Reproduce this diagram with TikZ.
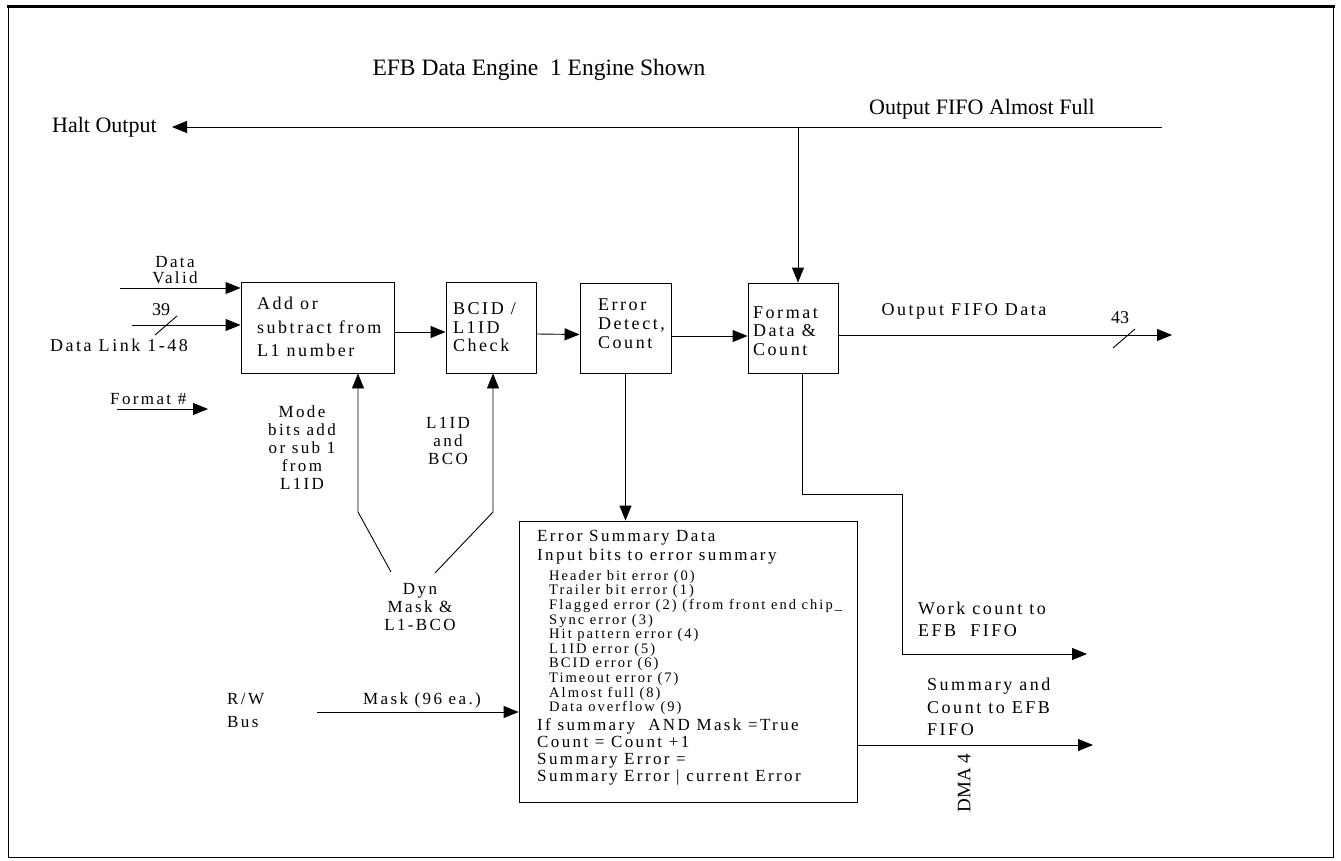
\documentclass[tikz,border=0pt]{standalone}
\usepackage{fontspec}
\setmainfont{Liberation Serif}
\newfontfamily\lsf[LetterSpace=14]{Liberation Serif}
\usetikzlibrary{arrows.meta}
\begin{document}
\begin{tikzpicture}[x=1pt,y=-1pt,
  box/.style={draw, line width=0.9pt, inner sep=0pt},
  arr/.style={-{Triangle[length=15pt,width=12pt]}, line width=0.9pt},
  ln/.style={line width=0.9pt},
  txt/.style={inner sep=0pt, align=left, font=\lsf\fontsize{17}{19}\selectfont},
  ctxt/.style={inner sep=0pt, align=center, font=\lsf\fontsize{17}{18}\selectfont},
  plain/.style={inner sep=0pt, font=\fontsize{22}{26}\selectfont}]
\useasboundingbox (0,0) rectangle (1341,861);
\draw[line width=1pt] (8,8) rectangle (1333,857);
\draw[line width=3pt] (6.5,7) -- (1334.5,7);

% title and top signals
\node[plain, font=\fontsize{23.5}{28}\selectfont] (title) at (539,70) {EFB Data Engine\ \ 1 Engine Shown};
\coordinate (hR) at (1162,127);
\coordinate (hL) at (172,127);
\node[plain, anchor=west] (halt) at (52,127) {Halt Output};
\node[plain] (ofaf) at (982,109) {Output FIFO Almost Full};
\draw[arr] (hR) -- (hL);

% blocks
\node[box, minimum width=153pt, minimum height=91pt] (A) at (317.5,327.5) {};
\node[box, minimum width=90pt, minimum height=91pt] (B) at (491,327.5) {};
\node[box, minimum width=91pt, minimum height=90pt] (C) at (625.5,328) {};
\node[box, minimum width=90pt, minimum height=90pt] (D) at (793,328) {};
\node[box, minimum width=338pt, minimum height=281pt] (E) at (688,661.5) {};

\node[txt, anchor=west, font=\lsf\fontsize{18}{23.5}\selectfont] (tA) at (257,327) {Add or\\subtract from\\L1 number};
\node[txt, anchor=west, font=\lsf\fontsize{18}{18.5}\selectfont] (tB) at (453,327.5) {BCID /\\L1ID\\Check};
\node[txt, anchor=west, font=\lsf\fontsize{18}{19}\selectfont] (tC) at (598,324) {Error\\Detect,\\Count};
\node[txt, anchor=west, font=\lsf\fontsize{18}{18.5}\selectfont] (tD) at (753,331) {Format\\Data \&\\Count};

% main data path
\draw[arr] ([yshift=-4.5pt]A.east) -- ([yshift=-4.5pt]B.west);
\draw[arr] ([yshift=-6.5pt]B.east) -- ([yshift=-6.5pt]C.west);
\draw[arr] ([yshift=-8pt]C.east) -- ([yshift=-8pt]D.west);
\coordinate (dtop) at ([xshift=5pt]D.north);
\draw[arr] (dtop |- hR) -- (dtop);
\coordinate (oT) at (1172,335);
\draw[arr] (D.east |- oT) -- (oT);
\draw[ln] (1113,348) -- (1135,329);
\node[inner sep=0pt, font=\fontsize{18}{20}\selectfont] (n43) at (1120,318) {43};
\node[txt, font=\lsf\fontsize{18}{20}\selectfont] (ofd) at (964,311) {Output FIFO Data};

% left inputs
\node[ctxt, font=\lsf\fontsize{17}{16.5}\selectfont] (dv) at (175,270) {Data\\Valid};
\coordinate (dvS) at (120,288);
\draw[arr] (dvS) -- (dvS -| A.west);
\coordinate (dlS) at (132,325);
\draw[arr] (dlS) -- (dlS -| A.west);
\draw[ln] (155,335) -- (177,316);
\node[inner sep=0pt, font=\fontsize{18}{20}\selectfont] (n39) at (161,310) {39};
\node[txt, anchor=west, font=\lsf\fontsize{18}{20}\selectfont] (dl) at (50,345) {Data Link 1-48};
\node[txt, anchor=west, font=\lsf\fontsize{17}{19}\selectfont] (fmt) at (110,399) {Format \#};
\coordinate (fS) at (117,409);
\coordinate (fT) at (208,409);
\draw[arr] (fS) -- (fT);

% control inputs from below
\node[ctxt] (mode) at (302,448) {Mode\\bits add\\or sub 1\\from\\L1ID};
\node[ctxt] (l1bco) at (448,441) {L1ID\\and\\BCO};
\node[ctxt] (dyn) at (420,607) {Dyn\\Mask \&\\L1-BCO};
\coordinate (kA) at (358,512);
\coordinate (dA) at (391,572);
\draw[arr] (dA) -- (kA) -- (kA |- A.south);
\coordinate (kB) at (493,512);
\coordinate (dB) at (435,573);
\draw[arr] (dB) -- (kB) -- (kB |- B.south);

% error summary
\draw[arr] (C.south) -- (C.south |- E.north);
\node[txt, anchor=west] (es1) at (537,547.5) {Error Summary Data\\Input bits to error summary};
\node[txt, anchor=west, font=\lsf\fontsize{14.5}{14.6}\selectfont] (es2) at (549,642.5) {Header bit error (0)\\Trailer bit error (1)\\Flagged error (2) (from front end chip\_\\Sync error (3)\\Hit pattern error (4)\\L1ID error (5)\\BCID error (6)\\Timeout error (7)\\Almost full (8)\\Data overflow (9)};
\node[txt, anchor=west, font=\lsf\fontsize{17}{16.8}\selectfont] (es3) at (537,752) {If summary\ \ AND Mask =True\\Count = Count +1\\Summary Error =\\Summary Error | current Error};

% R/W bus
\node[txt, anchor=west, font=\lsf\fontsize{17}{23}\selectfont] (rw) at (227,710) {R/W\\Bus};
\node[txt] (mask) at (422,700) {Mask (96 ea.)};
\coordinate (mS) at (317,712);
\draw[arr] (mS) -- (mS -| E.west);

% outputs
\coordinate (dbot) at ([xshift=9pt]D.south);
\coordinate (w1) at (902,494);
\coordinate (wT) at (1087,654);
\draw[arr] (dbot) |- (w1) -- (w1 |- wT) -- (wT);
\node[txt, anchor=west, font=\lsf\fontsize{18}{22}\selectfont] (wc) at (918,619) {Work count to\\EFB\ \ FIFO};
\coordinate (sT) at (1093,745);
\draw[arr] (E.east |- sT) -- (sT);
\node[txt, anchor=west, font=\lsf\fontsize{18}{22.5}\selectfont] (sc) at (927,707) {Summary and\\Count to EFB\\FIFO};
\node[inner sep=0pt, rotate=90, font=\fontsize{19}{21}\selectfont] (dma) at (964,783) {DMA 4};
\end{tikzpicture}
\end{document}
